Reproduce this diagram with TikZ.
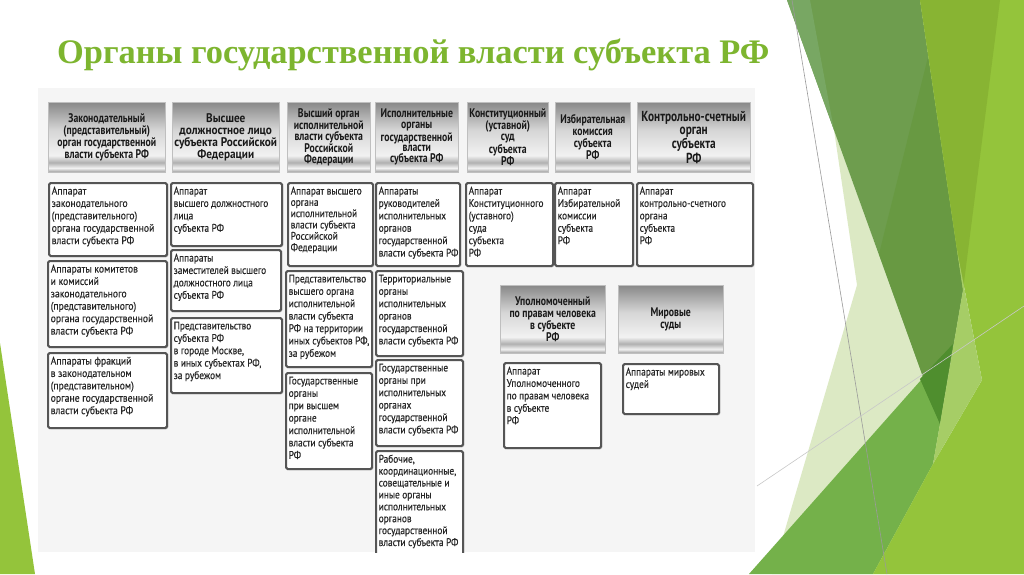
\documentclass[tikz,border=0pt]{standalone}
\usepackage{fontspec}
\setmainfont{Liberation Serif}
\newfontfamily\hdrfont[FakeStretch=0.78]{PT Sans}
\newfontfamily\hdrfontw[FakeStretch=0.9]{PT Sans}
\newfontfamily\boxfont[FakeStretch=0.85,FakeBold=0.3]{PT Sans}
\newfontfamily\boxfontw[FakeStretch=0.88,FakeBold=0.3]{PT Sans}
\usetikzlibrary{shadows}
\definecolor{titlegreen}{HTML}{7DB52F}
\definecolor{chartbg}{HTML}{F5F5F5}
\definecolor{boxborder}{HTML}{555555}
\definecolor{txt}{HTML}{262626}
\definecolor{palegreen}{HTML}{DCE9C4}
\definecolor{midgreen}{HTML}{74B14A}
\definecolor{darkband}{HTML}{6E9D4E}
\definecolor{darkbandb}{HTML}{689942}
\definecolor{darkbandc}{HTML}{78A763}
\definecolor{overlapgreen}{HTML}{4F8E2E}
\definecolor{brightgreen}{HTML}{94C43B}
\definecolor{olivegreen}{HTML}{88B433}
\definecolor{stripegreen}{HTML}{A6CD66}
\definecolor{linegray}{HTML}{9A9A9A}
\definecolor{linegrayb}{HTML}{C8C8C8}
\definecolor{hA}{HTML}{888888}
\definecolor{hB}{HTML}{D6D6D6}
\definecolor{hC}{HTML}{F2F2F2}
\definecolor{hD}{HTML}{B0B0B0}
\definecolor{hE}{HTML}{999999}
\pgfdeclareverticalshading{hdrshade}{100bp}{color(0bp)=(hE); color(25bp)=(hE); color(28bp)=(hC); color(32bp)=(hD); color(37bp)=(hC); color(55bp)=(hB); color(75bp)=(hA); color(100bp)=(hA)}
\newcommand\HdrBox[7][]{%
  \node[hdr, minimum width={#5pt-#3pt}, minimum height={#6pt-#4pt},#1] (#2) at (#3,#4) {#7};}
\newcommand\SubBox[7][]{%
  \node[subbox, minimum width={#5pt-#3pt}, minimum height={#6pt-#4pt}] (#2) at (#3,#4) {};
  \node[subtext,#1] (#2t) at ([xshift=3.5pt,yshift=-4.5pt]#2.north west) {#7};}
\begin{document}
\begin{tikzpicture}[x=1pt,y=-1pt,
  hdr/.style={anchor=north west, shading=hdrshade, draw=black!25, line width=0.5pt, align=center, inner sep=1pt, text=black!90,
    font=\hdrfont\bfseries\fontsize{12.5}{12}\selectfont,
    drop shadow={shadow xshift=1pt, shadow yshift=-1pt, opacity=0.25, fill=black}},
  subbox/.style={anchor=north west, draw=boxborder, line width=2pt, rounded corners=1.6pt, fill=white, inner sep=0pt,
    drop shadow={shadow xshift=1.2pt, shadow yshift=-1.2pt, opacity=0.3, fill=black}},
  subtext/.style={anchor=north west, align=left, inner sep=0pt, text=txt, font=\boxfont\fontsize{11}{12.4}\selectfont},
  wide/.style={font=\boxfontw\fontsize{11}{12.4}\selectfont},
  tight/.style={font=\boxfont\fontsize{11}{11.3}\selectfont},
  mid/.style={font=\boxfont\fontsize{11}{11.9}\selectfont},
  htight/.style={font=\hdrfont\bfseries\fontsize{12.5}{10.9}\selectfont},
  hwide/.style={font=\hdrfontw\bfseries\fontsize{12.5}{12}\selectfont},
  hbig/.style={font=\hdrfont\bfseries\fontsize{14.5}{12.8}\selectfont}]
\useasboundingbox (0,0) rectangle (1024,574);
\fill[white] (0,0) rectangle (1024,574);
% background facets
\fill[palegreen] (834,130) -- (857,285) -- (772,574) -- (940,574) -- (940,424) -- cycle;
\fill[midgreen] (749,574) -- (953,344) -- (940,424) -- (933,464) -- (873,574) -- cycle;
\fill[darkband] (787,0) -- (920,0) -- (963,290) -- (940,424) -- cycle;
\fill[darkbandb] (928,57) -- (879,254) -- (940,424) -- (963,290) -- cycle;
\fill[darkbandc] (787,0) -- (810,0) -- (834,130) -- cycle;
\fill[overlapgreen] (920,379) -- (953,344) -- (940,424) -- cycle;
\fill[brightgreen] (920,0) -- (1024,0) -- (1024,574) -- (873,574) -- (933,464) -- (982,380) -- (957,250) -- cycle;
\fill[olivegreen] (920,0) -- (1000,0) -- (963,290) -- cycle;
\fill[stripegreen] (957,250) -- (982,380) -- (933,464) -- (940,424) -- (963,290) -- cycle;
\draw[linegray, line width=0.6pt] (792,0) -- (887,574);
\draw[linegrayb, line width=0.6pt] (757,486) -- (1024,306);
\fill[brightgreen] (0,343) -- (35,574) -- (0,574) -- cycle;
% title
\node[anchor=base west, inner sep=0pt, text=titlegreen, font=\bfseries\fontsize{34.4}{38}\selectfont] (title) at (57,63) {Органы государственной власти субъекта РФ};
% chart
\fill[chartbg] (38,88) rectangle (755,552);
\begin{scope}
\clip (38,88) rectangle (755,552);
\HdrBox{h1}{48}{102}{165}{172}{Законодательный\\(представительный)\\орган государственной\\власти субъекта РФ}
\HdrBox[hwide]{h2}{172}{102}{279}{172}{Высшее\\должностное лицо\\субъекта Российской\\Федерации}
\HdrBox[htight]{h3}{287}{102}{370}{172}{Высший орган\\исполнительной\\власти субъекта\\Российской\\Федерации}
\HdrBox[htight]{h4}{375}{102}{458}{172}{Исполнительные\\органы\\государственной\\власти\\субъекта РФ}
\HdrBox[htight]{h5}{467}{102}{548}{172}{Конституционный\\(уставной)\\суд\\субъекта\\РФ}
\HdrBox{h6}{555}{102}{630}{172}{Избирательная\\комиссия\\субъекта\\РФ}
\HdrBox[hbig]{h7}{637}{102}{750}{172}{Контрольно-счетный\\орган\\субъекта\\РФ}
\HdrBox{h8}{500}{285}{605}{353}{Уполномоченный\\по правам человека\\в субъекте\\РФ}
\HdrBox{h9}{618}{285}{723}{353}{Мировые\\суды}
\SubBox[wide]{s11}{48}{182}{166}{255}{Аппарат\\законодательного\\(представительного)\\органа государственной\\власти субъекта РФ}
\SubBox[wide]{s12}{47}{260}{166}{346}{Аппараты комитетов\\и комиссий\\законодательного\\(представительного)\\органа государственной\\власти субъекта РФ}
\SubBox[wide]{s13}{47}{352}{166}{427}{Аппараты фракций\\в законодательном\\(представительном)\\органе государственной\\власти субъекта РФ}
\SubBox{s21}{170}{182}{281}{245}{Аппарат\\высшего должностного\\лица\\субъекта РФ}
\SubBox{s22}{170}{249}{280}{310}{Аппараты\\заместителей высшего\\должностного лица\\субъекта РФ}
\SubBox{s23}{170}{317}{281}{392}{Представительство\\субъекта РФ\\в городе Москве,\\в иных субъектах РФ,\\за рубежом}
\SubBox[tight]{s31}{287}{182}{372}{265}{Аппарат высшего\\органа\\исполнительной\\власти субъекта\\Российской\\Федерации}
\SubBox{s32}{285}{270}{371}{366}{Представительство\\высшего органа\\исполнительной\\власти субъекта\\РФ на территории\\иных субъектов РФ,\\за рубежом}
\SubBox{s33}{285}{372}{371}{468}{Государственные\\органы\\при высшем\\органе\\исполнительной\\власти субъекта\\РФ}
\SubBox{s41}{375}{182}{459}{265}{Аппараты\\руководителей\\исполнительных\\органов\\государственной\\власти субъекта РФ}
\SubBox{s42}{375}{270}{462}{355}{Территориальные\\органы\\исполнительных\\органов\\государственной\\власти субъекта РФ}
\SubBox{s43}{375}{359}{462}{445}{Государственные\\органы при\\исполнительных\\органах\\государственной\\власти субъекта РФ}
\SubBox[mid]{s44}{375}{450}{462}{560}{Рабочие,\\координационные,\\совещательные и\\иные органы\\исполнительных\\органов\\государственной\\власти субъекта РФ}
\SubBox{s51}{465}{182}{552}{265}{Аппарат\\Конституционного\\(уставного)\\суда\\субъекта\\РФ}
\SubBox{s61}{554}{182}{632}{265}{Аппарат\\Избирательной\\комиссии\\субъекта\\РФ}
\SubBox{s71}{636}{182}{752}{265}{Аппарат\\контрольно-счетного\\органа\\субъекта\\РФ}
\SubBox{s81}{503}{362}{600}{447}{Аппарат\\Уполномоченного\\по правам человека\\в субъекте\\РФ}
\SubBox{s91}{622}{363}{718}{413}{Аппараты мировых\\судей}
\end{scope}
\end{tikzpicture}
\end{document}
